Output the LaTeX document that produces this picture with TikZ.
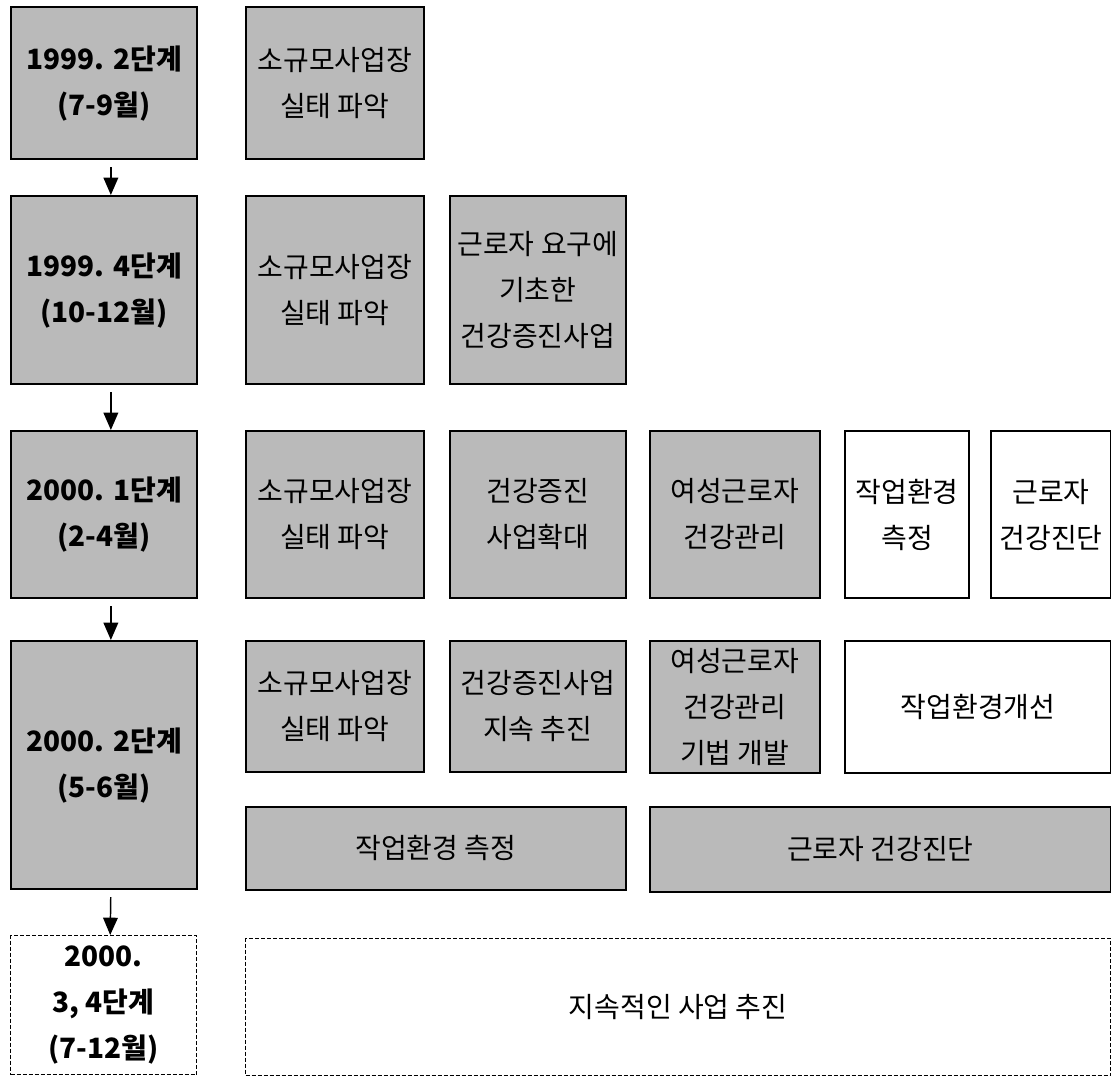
\documentclass[tikz,border=0pt]{standalone}
\usepackage{fontspec}
\setmainfont{Noto Sans CJK KR}
\usetikzlibrary{arrows.meta}

\tikzset{
  box/.style={draw, align=center, anchor=north west, inner sep=0pt,
    font=\fontsize{21}{34.5}\selectfont},
  stage/.style={box, line width=1.8pt, fill=black!27, font=\fontsize{21}{34.5}\selectfont\bfseries},
  later/.style={box, dash pattern=on 3pt off 1.5pt, line width=0.8pt, fill=white, font=\fontsize{21}{34.5}\selectfont\bfseries},
  task/.style={box, line width=1.3pt, fill=black!27},
  plain/.style={box, line width=1.5pt, fill=white},
  todo/.style={box, dash pattern=on 3pt off 1.5pt, line width=0.8pt, fill=white},
  sz/.style 2 args={minimum width=#1*0.75pt, minimum height=#2*0.75pt},
  next/.style={-{Triangle[length=13pt,width=11pt]}, line width=1.1pt, shorten <=5pt},
}

\begin{document}
\begin{tikzpicture}[x=0.75pt, y=-0.75pt]
\useasboundingbox (0,0) rectangle (1111,1077);

\node (s1) [stage, sz={186}{152}] at (10,6)   {1999. 2단계\\(7-9월)};
\node (s2) [stage, sz={186}{188}] at (10,195) {1999. 4단계\\(10-12월)};
\node (s3) [stage, sz={186}{167}] at (10,430) {2000. 1단계\\(2-4월)};
\node (s4) [stage, sz={186}{248}] at (10,640) {2000. 2단계\\(5-6월)};
\node (s5) [later, sz={186}{139}] at (10,935) {2000.\\3, 4단계\\(7-12월)};

\node (a1) [task, sz={178}{152}] at (245,6)   {소규모사업장\\실태 파악};
\node (a2) [task, sz={178}{188}] at (245,195) {소규모사업장\\실태 파악};
\node (b2) [task, sz={176}{188}] at (449,195) {근로자 요구에\\기초한\\건강증진사업};

\node (a3) [task, sz={178}{167}] at (245,430) {소규모사업장\\실태 파악};
\node (b3) [task, sz={176}{167}] at (449,430) {건강증진\\사업확대};
\node (c3) [task, sz={170}{167}] at (649,430) {여성근로자\\건강관리};
\node (d3) [plain, sz={124}{167}] at (844,430) {작업환경\\측정};
\node (e3) [plain, sz={120}{167}] at (990,430) {근로자\\건강진단};

\node (a4) [task, sz={178}{131}] at (245,640) {소규모사업장\\실태 파악};
\node (b4) [task, sz={176}{131}] at (449,640) {건강증진사업\\지속 추진};
\node (c4) [task, sz={170}{132}] at (649,640) {여성근로자\\건강관리\\기법 개발};
\node (d4) [plain, sz={266}{132}] at (844,640) {작업환경개선};
\node (a5) [task, sz={380}{83}]  at (245,806) {작업환경 측정};
\node (c5) [task, sz={461}{85}]  at (649,806) {근로자 건강진단};

\node (a6) [todo, sz={865}{137}] at (245,938) {지속적인 사업 추진};
%
\foreach \i/\j in {s1/s2, s2/s3, s3/s4, s4/s5}
    \draw[next] ([xshift=5pt]\i.south) -- ([xshift=5pt]\j.north);
%
\end{tikzpicture}
\end{document}
